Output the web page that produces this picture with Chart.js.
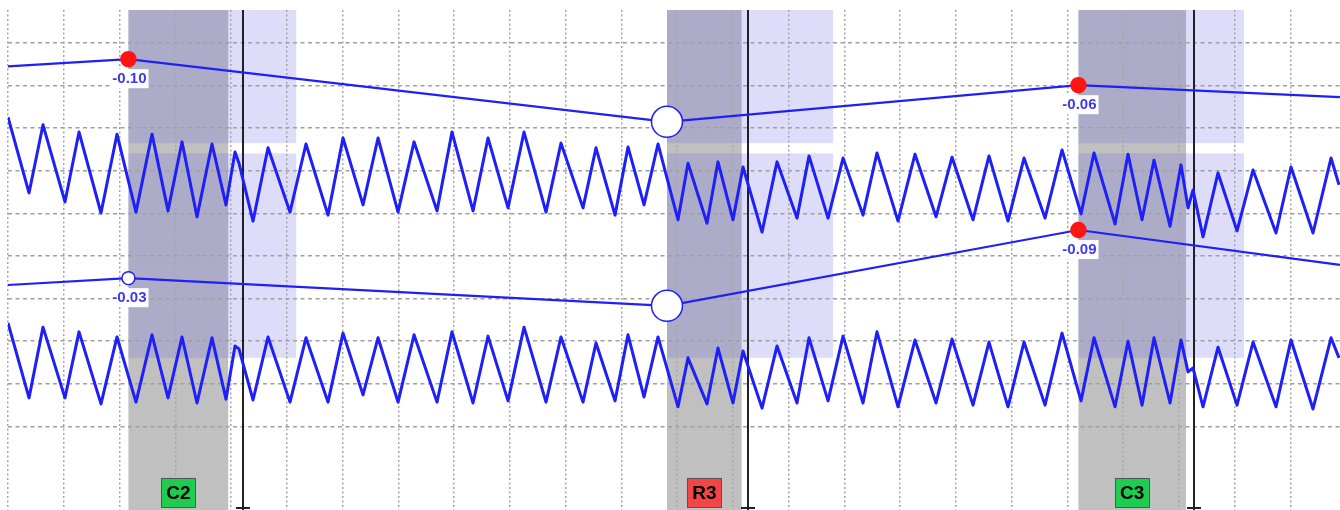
<!DOCTYPE html>
<html>
<head>
<meta charset="utf-8">
<script src="https://cdn.jsdelivr.net/npm/chart.js@4.4.1/dist/chart.umd.min.js"></script>
<style>
  html, body { margin: 0; padding: 0; background: #fff; }
  #wrap { width: 1340px; height: 510px; }
</style>
</head>
<body>
<div id="wrap"><canvas id="chart" width="1340" height="510"></canvas></div>
<script>
// ── Data (time in s, amplitude in grid units) ──

// peaks / troughs of the two traces, shared time base
const extremaTime = [
  0, 0.377, 0.628, 1.022, 1.274, 1.668, 1.955, 2.296, 2.583, 2.870,
  3.121, 3.390, 3.659, 3.910, 4.072, 4.143, 4.395, 4.664, 5.058, 5.345,
  5.740, 6.009, 6.368, 6.637, 6.996, 7.283, 7.695, 7.964, 8.341, 8.610,
  8.969, 9.256, 9.650, 9.919, 10.314, 10.547, 10.888, 11.121, 11.408, 11.659,
  12.018, 12.197, 12.538, 12.735, 13.004, 13.184, 13.525, 13.794, 14.152, 14.368,
  14.709, 14.978, 15.336, 15.587, 15.964, 16.269, 16.646, 16.933, 17.309, 17.596,
  17.937, 18.224, 18.601, 18.906, 19.247, 19.480, 19.857, 20.090, 20.341, 20.556,
  20.843, 21.040, 21.166, 21.256, 21.435, 21.704, 22.045, 22.332, 22.744, 23.013,
  23.408, 23.731, 23.874,
];
const upperTrace = [
  8.26, 6.48, 8.08, 6.27, 7.91, 6.01, 7.86, 6.03, 7.86, 6.06,
  7.68, 5.92, 7.63, 6.20, 7.44, 7.18, 5.82, 7.54, 6.03, 7.63,
  5.96, 7.77, 6.20, 7.77, 6.03, 7.68, 6.06, 7.91, 6.06, 7.77,
  6.13, 7.91, 6.03, 7.65, 6.13, 7.54, 5.96, 7.56, 6.20, 7.63,
  5.85, 7.18, 5.77, 7.21, 5.85, 7.09, 5.56, 7.21, 5.89, 7.35,
  5.89, 7.30, 5.96, 7.42, 5.82, 7.39, 5.92, 7.32, 5.85, 7.35,
  5.82, 7.30, 5.89, 7.49, 5.99, 7.42, 5.75, 7.39, 5.85, 7.25,
  5.70, 7.14, 6.13, 6.55, 5.45, 6.95, 5.59, 7.02, 5.54, 7.09,
  5.54, 7.30, 6.67,
];
const lowerTrace = [
  3.43, 1.67, 3.33, 1.67, 3.22, 1.53, 3.10, 1.57, 3.15, 1.67,
  3.10, 1.55, 3.08, 1.64, 2.89, 2.82, 1.62, 3.10, 1.57, 3.08,
  1.57, 3.19, 1.74, 3.08, 1.57, 3.15, 1.57, 3.22, 1.55, 3.12,
  1.60, 3.33, 1.57, 3.10, 1.57, 2.96, 1.60, 3.15, 1.69, 3.10,
  1.46, 2.61, 1.53, 2.84, 1.55, 2.77, 1.43, 2.89, 1.55, 3.08,
  1.60, 3.12, 1.55, 3.22, 1.46, 3.03, 1.55, 3.05, 1.50, 2.98,
  1.46, 2.98, 1.50, 3.19, 1.60, 3.08, 1.46, 3.00, 1.50, 3.08,
  1.55, 3.03, 2.28, 2.37, 1.46, 2.86, 1.50, 2.98, 1.46, 3.03,
  1.41, 3.08, 2.61,
];

// trend lines through the events
const trendTime = [0, 2.16, 11.82, 19.20, 23.89];
const upperTrend = [9.45, 9.62, 8.15, 9.01, 8.73];
const lowerTrend = [4.32, 4.48, 3.83, 5.61, 4.79];
const upperTrendKind = ['none', 'alarm', 'event', 'alarm', 'none'];
const lowerTrendKind = ['none', 'open', 'event', 'alarm', 'none'];
const upperTrendLabels = [null, '-0.10', null, '-0.06', null];
const lowerTrendLabels = [null, '-0.03', null, '-0.09', null];

// events
const eventNames = ['C2', 'R3', 'C3'];
const eventKinds = ['ok', 'alarm', 'ok'];
const eventStart = [2.16, 11.82, 19.20];
const eventEnd = [3.95, 13.16, 21.13];
const eventWindowEnd = [5.17, 14.80, 22.17];
const eventMarker = [4.21, 13.28, 21.27];
const eventLabelLevel = -0.55;

// lanes (amplitude ranges) that get the window shading
const laneBands = [[7.65, 10.78], [2.61, 7.41]];

// grid
const gridCols = Array.from({length: 24}, (_, i) => i);
const gridRows = [1, 2, 3, 4, 5, 6, 7, 8, 9, 10];

// ── Styles ──

const BLUE = '#1f1ff8';
const kindRadius = {none: 0, alarm: 7.5, open: 6.5, event: 15.5};
const kindFill = {none: 'rgba(0,0,0,0)', alarm: '#ff1414', open: '#ffffff', event: '#ffffff'};
const kindBorder = {none: 'rgba(0,0,0,0)', alarm: '#ff1414', open: BLUE, event: BLUE};
const eventFill = {ok: '#1fcc50', alarm: '#f24545'};

const toXY = (xs, ys) => xs.map((x, i) => ({x, y: ys[i]}));

// ── Plugins ──

const eventLayers = {
  id: 'eventLayers',
  beforeDraw(chart) {
    const {ctx, chartArea: a, scales: {x, y}} = chart;
    ctx.save();
    eventStart.forEach((t, i) => {
      const x0 = x.getPixelForValue(t);
      const x1 = x.getPixelForValue(eventEnd[i]);
      const x2 = x.getPixelForValue(eventWindowEnd[i]);
      ctx.fillStyle = '#c0c0c0';
      ctx.fillRect(x0, a.top, x1 - x0, a.bottom - a.top);
      ctx.fillStyle = 'rgba(100, 100, 232, 0.22)';
      for (const [lo, hi] of laneBands) {
        const y0 = Math.max(a.top, y.getPixelForValue(hi));
        const y1 = y.getPixelForValue(lo);
        ctx.fillRect(x0, y0, x2 - x0, y1 - y0);
      }
    });
    ctx.restore();
  },
  beforeDatasetsDraw(chart) {
    const {ctx, chartArea: a, scales: {x}} = chart;
    ctx.save();
    ctx.strokeStyle = '#202028';
    ctx.lineWidth = 2;
    for (const t of eventMarker) {
      const px = Math.round(x.getPixelForValue(t));
      ctx.beginPath();
      ctx.moveTo(px, a.top);
      ctx.lineTo(px, a.bottom);
      ctx.moveTo(px - 7, a.bottom - 2);
      ctx.lineTo(px + 7, a.bottom - 2);
      ctx.stroke();
    }
    ctx.restore();
  },
  afterDatasetsDraw(chart) {
    const {ctx, scales: {x, y}} = chart;
    ctx.save();

    // value labels under the trend points
    ctx.font = 'bold 15px "Liberation Sans", Arial, sans-serif';
    ctx.textAlign = 'center';
    ctx.textBaseline = 'middle';
    [[0, upperTrendLabels], [1, lowerTrendLabels]].forEach(([di, labels]) => {
      const meta = chart.getDatasetMeta(di);
      labels.forEach((txt, i) => {
        if (!txt) return;
        const pt = meta.data[i];
        const cx = pt.x + 1, cy = pt.y + 19;
        const w = ctx.measureText(txt).width;
        ctx.fillStyle = '#ffffff';
        ctx.fillRect(cx - w / 2 - 2, cy - 9, w + 4, 19);
        ctx.fillStyle = '#3b3bf2';
        ctx.fillText(txt, cx, cy + 1);
      });
    });

    // event name boxes
    ctx.font = 'bold 19px "Liberation Sans", Arial, sans-serif';
    eventNames.forEach((name, i) => {
      const cx = (x.getPixelForValue(eventStart[i]) + x.getPixelForValue(eventEnd[i])) / 2;
      const cy = y.getPixelForValue(eventLabelLevel);
      const bw = 34, bh = 29;
      ctx.fillStyle = eventFill[eventKinds[i]];
      ctx.fillRect(cx - bw / 2, cy - bh / 2, bw, bh);
      ctx.strokeStyle = '#555';
      ctx.lineWidth = 1;
      ctx.strokeRect(Math.round(cx - bw / 2) + 0.5, Math.round(cy - bh / 2) + 0.5, bw, bh);
      ctx.fillStyle = '#000';
      ctx.fillText(name, cx, cy + 1);
    });
    ctx.restore();
  },
};

// ── Chart ──

function trendDataset(values, kinds, order) {
  return {
    data: toXY(trendTime, values),
    borderColor: BLUE,
    borderWidth: 2.2,
    tension: 0,
    order,
    pointRadius: kinds.map(k => kindRadius[k]),
    pointBackgroundColor: kinds.map(k => kindFill[k]),
    pointBorderColor: kinds.map(k => kindBorder[k]),
    pointBorderWidth: 1.5,
  };
}

function traceDataset(values, order) {
  return {
    data: toXY(extremaTime, values),
    borderColor: BLUE,
    borderWidth: 3,
    borderJoinStyle: 'round',
    tension: 0,
    pointRadius: 0,
    order,
  };
}

new Chart(document.getElementById('chart'), {
  type: 'line',
  data: {
    datasets: [
      trendDataset(upperTrend, upperTrendKind, 0),
      trendDataset(lowerTrend, lowerTrendKind, 1),
      traceDataset(upperTrace, 2),
      traceDataset(lowerTrace, 3),
    ],
  },
  options: {
    responsive: false,
    animation: false,
    events: [],
    layout: { padding: { left: 8, top: 10, right: 0, bottom: 0 } },
    plugins: { legend: { display: false }, tooltip: { enabled: false } },
    scales: {
      x: {
        type: 'linear', min: 0, max: 23.892,
        afterBuildTicks: s => { s.ticks = gridCols.map(v => ({value: v})); },
        ticks: { display: false },
        grid: { color: '#a6a6a6', lineWidth: 1.5, drawTicks: false },
        border: { display: false, dash: [2, 2.5] },
      },
      y: {
        type: 'linear', min: -0.962, max: 10.775,
        afterBuildTicks: s => { s.ticks = gridRows.map(v => ({value: v})); },
        ticks: { display: false },
        grid: { color: '#a0a0a0', lineWidth: 1.5, drawTicks: false },
        border: { display: false, dash: [4, 3.5] },
      },
    },
  },
  plugins: [eventLayers],
});
</script>
</body>
</html>
